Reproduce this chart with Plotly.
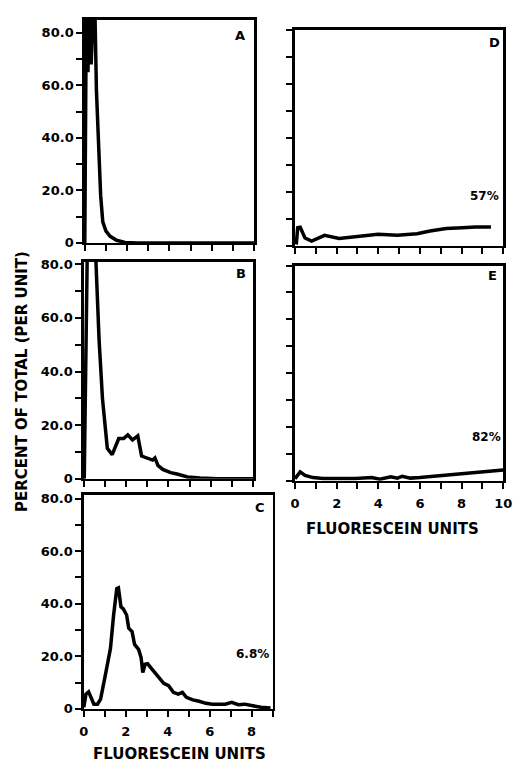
import plotly.graph_objects as go

W, H = 521, 768

# ---------------- data ----------------
a_x = [0.0, 0.08, 0.15, 0.22, 0.3, 0.38, 0.45, 0.55, 0.65, 0.75, 0.85, 1.0, 1.2, 1.5, 1.9, 2.5, 8.0]
a_y = [0.0, 100, 65, 100, 68, 100, 100, 58, 38, 18, 8, 4.5, 2.5, 1.0, 0.2, 0.0, 0.0]

b_x = [0.02, 0.18, 0.35, 0.5, 0.57, 0.72, 0.88, 1.11, 1.34, 1.65, 1.88, 2.08, 2.3, 2.55, 2.73,
       3.04, 3.25, 3.36, 3.5, 3.73, 4.1, 4.4, 4.9, 5.5, 6.3, 8.0]
b_y = [0.0, 95, 100, 95, 81.5, 52, 30, 11.4, 9, 15, 15, 16.4, 14.5, 16, 8.5,
       7.8, 7, 7.8, 5, 3.5, 2.3, 1.8, 0.7, 0.3, 0.0, 0.0]

c_x = [0.0, 0.1, 0.23, 0.33, 0.48, 0.65, 0.8, 1.03, 1.27, 1.42, 1.57, 1.65, 1.77, 1.88, 2.04,
       2.14, 2.3, 2.42, 2.61, 2.73, 2.81, 2.92, 3.04, 3.19, 3.38, 3.58, 3.81, 4.04, 4.27, 4.5,
       4.7, 4.89, 5.2, 5.5, 5.82, 6.13, 6.43, 6.74, 7.05, 7.36, 7.67, 7.98, 8.44, 8.9]
c_y = [0.6, 5.6, 6.5, 4.9, 1.8, 1.8, 3.7, 13, 23, 35.7, 45.7, 46, 38.8, 38, 35.7,
       30.7, 29.4, 24.5, 22.6, 19.5, 13.8, 17, 17.2, 15.7, 13.8, 11.7, 9.7, 8.8, 6.3, 5.6,
       6.3, 4.4, 3.4, 2.9, 2.1, 1.8, 1.8, 1.8, 2.5, 1.6, 1.8, 1.2, 0.6, 0.3]

d_x = [0.06, 0.13, 0.25, 0.48, 0.8, 1.42, 2.12, 3.05, 3.99, 4.92, 5.86, 6.48, 7.26, 8.04, 8.66, 9.41]
d_y = [0.5, 6.7, 6.9, 2.9, 1.8, 3.9, 2.7, 3.6, 4.3, 3.9, 4.5, 5.5, 6.4, 6.7, 7.0, 7.0]

e_x = [0.0, 0.25, 0.48, 0.87, 1.34, 1.96, 2.9, 3.68, 4.07, 4.6, 4.92, 5.15, 5.54, 6.0, 6.8,
       7.57, 8.35, 9.28, 10.0]
e_y = [0.8, 3.3, 2.0, 1.2, 0.85, 0.85, 0.85, 1.2, 0.6, 1.5, 1.0, 1.7, 1.0, 1.2, 1.8,
       2.4, 3.0, 3.6, 4.0]

y_tickvals = [0, 20, 40, 60, 80]
y_ticktext = ["0", "20.0", "40.0", "60.0", "80.0"]
x_tickvals = [0, 2, 4, 6, 8, 10]
x_ticktext = ["0", "2", "4", "6", "8", "10"]

panel_letters = ["A", "B", "C", "D", "E"]
percent_labels = {"C": "6.8%", "D": "57%", "E": "82%"}
y_title = "PERCENT OF TOTAL (PER UNIT)"
x_title = "FLUORESCEIN UNITS"

# ---------------- layout helpers ----------------
FONT = "DejaVu Sans, Verdana, sans-serif"

def px_x(v):
    return v / W

def px_y(v):
    return 1 - v / H

# panel boxes in page pixels: left, right, top, bottom
boxes = {
    "A": (82, 256, 15, 242),
    "B": (81, 255, 261, 482),
    "C": (81, 275, 498, 716),
    "D": (298, 512, 25, 245),
    "E": (298, 512, 265, 484),
}
letter_pos = {"A": (242, 31), "B": (243, 273), "C": (262, 511), "D": (503, 38), "E": (501, 275)}
percent_pos = {"C": (254, 660), "D": (493, 194), "E": (495, 439)}
xranges = {"A": [0, 8], "B": [0, 8], "C": [0, 9], "D": [0, 10], "E": [0, 10]}
yranges = {"A": [0, 85], "B": [0, 81], "C": [0, 81.5], "D": [0, 80], "E": [0, 80]}
show_y_labels = {"A": True, "B": True, "C": True, "D": False, "E": False}
show_x_labels = {"A": False, "B": False, "C": True, "D": False, "E": True}

series = {"A": (a_x, a_y), "B": (b_x, b_y), "C": (c_x, c_y), "D": (d_x, d_y), "E": (e_x, e_y)}

fig = go.Figure()
layout = dict(
    width=W, height=H,
    margin=dict(l=0, r=0, t=0, b=0),
    paper_bgcolor="white", plot_bgcolor="white",
    showlegend=False,
    font=dict(family=FONT, color="black"),
    hovermode=False,
)

tickfont = dict(family=FONT, size=13, color="black", weight="bold")
annotations = []

def bold(size):
    return dict(family=FONT, size=size, color="black", weight="bold")

for i, key in enumerate(panel_letters, start=1):
    l, r, t, b = boxes[key]
    xname = "xaxis" if i == 1 else f"xaxis{i}"
    yname = "yaxis" if i == 1 else f"yaxis{i}"
    xref = "x" if i == 1 else f"x{i}"
    yref = "y" if i == 1 else f"y{i}"
    layout[xname] = dict(
        domain=[px_x(l), px_x(r)], anchor=yref, range=xranges[key],
        showline=True, mirror=True, linewidth=2.5, linecolor="black",
        showgrid=False, zeroline=False,
        tickmode="array", tickvals=x_tickvals, ticktext=x_ticktext,
        ticks="outside", ticklen=6, tickwidth=2, tickcolor="black",
        showticklabels=show_x_labels[key], tickfont=tickfont, ticklabelstandoff=3,
        ticklabeloverflow="allow",
        minor=dict(dtick=1, tick0=0, ticks="outside", ticklen=6, tickwidth=2, tickcolor="black"),
        fixedrange=True,
    )
    layout[yname] = dict(
        domain=[px_y(b), px_y(t)], anchor=xref, range=yranges[key],
        showline=True, mirror=True, linewidth=2.5, linecolor="black",
        showgrid=False, zeroline=False,
        tickmode="array", tickvals=y_tickvals, ticktext=y_ticktext,
        ticks="outside", ticklen=6, tickwidth=2, tickcolor="black",
        showticklabels=show_y_labels[key], tickfont=tickfont,
        ticklabeloverflow="allow",
        minor=dict(dtick=10, tick0=0, ticks="outside", ticklen=6, tickwidth=2, tickcolor="black"),
        fixedrange=True,
    )
    xs, ys = series[key]
    fig.add_trace(go.Scatter(x=xs, y=ys, mode="lines", xaxis=xref, yaxis=yref,
                             line=dict(color="black", width=3.5), hoverinfo="skip"))
    lx, ly = letter_pos[key]
    annotations.append(dict(
        text=key, xref="paper", yref="paper", x=px_x(lx), y=px_y(ly),
        xanchor="center", yanchor="middle", showarrow=False, font=bold(13),
    ))
    if key in percent_labels:
        qx, qy = percent_pos[key]
        annotations.append(dict(
            text=percent_labels[key], xref="paper", yref="paper", x=px_x(qx), y=px_y(qy),
            xanchor="center", yanchor="middle", showarrow=False, font=bold(12),
        ))

# axis titles as paper annotations
annotations.append(dict(
    text=y_title, xref="paper", yref="paper", x=px_x(17), y=px_y(383),
    textangle=-90, showarrow=False, xanchor="center", yanchor="middle", font=bold(15),
))
annotations.append(dict(
    text=x_title, xref="paper", yref="paper", x=px_x(398), y=px_y(533),
    showarrow=False, xanchor="center", yanchor="middle", font=bold(15),
))
annotations.append(dict(
    text=x_title, xref="paper", yref="paper", x=px_x(179), y=px_y(762),
    showarrow=False, xanchor="center", yanchor="middle", font=bold(15),
))

layout["annotations"] = annotations
fig.update_layout(**layout)
fig.write_html(
    "out.html",
    config={"displayModeBar": False, "staticPlot": True},
    post_script="document.body.style.margin='0';document.body.style.overflow='hidden';",
)
